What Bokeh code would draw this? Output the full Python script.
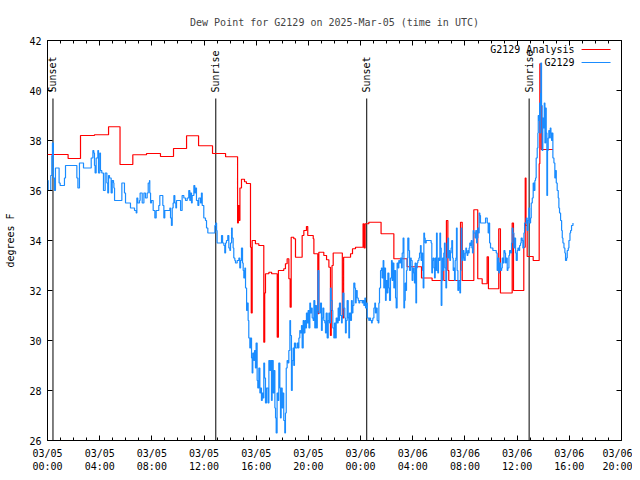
import math
from bokeh.plotting import figure
from bokeh.models import FixedTicker, LinearAxis, Range1d, CustomJSTickFormatter
from bokeh.core.properties import value
from bokeh.embed import file_html
from bokeh.resources import INLINE

# ---------------- data (hours since 2025-03-05 00:00 UTC, dew point in deg F) -------------
title_text = "Dew Point for G2129 on 2025-Mar-05 (time in UTC)"
series_names = ["G2129 Analysis", "G2129"]

analysis_hours = [0.00, 1.58, 2.53, 3.60, 4.68, 5.56, 6.54, 7.59, 8.66, 9.66,
                  10.66, 11.58, 12.65, 13.65, 14.57, 14.63, 14.68, 14.75, 14.87, 15.10,
                  15.25, 15.56, 15.62, 15.69, 15.94, 16.20, 16.58, 16.65, 16.71, 16.97,
                  17.18, 17.61, 17.70, 18.11, 18.24, 18.37, 18.50, 18.60, 18.68, 18.88,
                  19.01, 19.52, 19.65, 19.85, 19.95, 20.37, 20.42, 20.72, 20.80, 21.18,
                  21.39, 21.57, 21.69, 21.75, 21.81, 21.90, 22.60, 22.70, 23.23, 23.38,
                  23.61, 24.19, 24.27, 24.35, 24.63, 25.57, 26.55, 27.57, 28.67, 29.48,
                  30.25, 30.38, 30.58, 30.69, 30.76, 31.66, 31.79, 32.68, 32.98, 33.32,
                  33.70, 33.80, 34.59, 34.72, 35.62, 35.72, 36.51, 36.62, 36.68, 36.77,
                  37.23, 37.69, 37.74, 37.85, 38.75]
analysis_dewpt = [37.44, 37.28, 38.20, 38.23, 38.55, 37.04, 37.43, 37.48, 37.36, 37.68,
                  38.19, 37.79, 37.48, 37.35, 34.70, 35.40, 34.80, 36.10, 36.45, 36.35,
                  36.28, 33.73, 31.10, 34.00, 33.87, 33.80, 29.93, 31.90, 32.67, 32.73,
                  32.67, 30.13, 32.80, 32.87, 33.07, 33.27, 32.47, 31.33, 34.13, 34.07,
                  33.33, 34.20, 34.40, 34.56, 34.20, 34.07, 33.47, 31.07, 33.53, 33.40,
                  33.23, 32.93, 30.20, 31.20, 33.00, 33.50, 30.90, 33.33, 33.47, 33.67,
                  33.73, 34.67, 33.70, 34.67, 34.73, 34.27, 33.27, 32.95, 32.50, 32.40,
                  32.80, 32.40, 34.80, 32.80, 32.40, 34.73, 32.40, 35.23, 32.47, 32.27,
                  33.35, 32.07, 34.47, 31.90, 34.70, 32.00, 33.73, 36.50, 34.60, 33.36,
                  33.20, 37.07, 41.07, 37.64, 37.64]

obs_hours = [
    0.00, 0.05, 0.25, 0.33, 0.38, 0.45, 0.54, 0.61, 0.89, 0.97,
    1.30, 1.38, 2.25, 2.33, 2.45, 2.76, 3.35, 3.48, 3.55, 3.60,
    3.65, 3.73, 3.86, 3.91, 4.01, 4.06, 4.16, 4.29, 4.42, 4.55,
    4.62, 4.68, 4.75, 4.88, 4.96, 5.06, 5.09, 5.14, 5.70, 5.90,
    5.98, 6.36, 6.67, 6.80, 6.85, 6.92, 7.05, 7.10,
    7.26, 7.39, 7.51, 7.64, 7.72, 7.82, 7.84, 7.90, 7.97, 8.10,
    8.23, 8.33, 8.53, 8.61, 8.84, 8.92, 8.99, 9.38, 9.43, 9.50,
    9.56, 9.63, 9.69, 9.76, 9.84, 9.89, 10.20, 10.32, 10.45, 10.58,
    10.71, 10.83, 10.91, 10.96, 11.04, 11.09, 11.22, 11.29, 11.35, 11.42,
    11.53, 11.60, 11.73, 11.80, 11.86, 11.98, 12.11, 12.19, 12.29, 12.83,
    12.90, 12.96, 13.00, 13.34, 13.42, 13.52, 13.59, 13.65, 13.72, 13.82,
    13.90, 13.98, 14.03, 14.11, 14.16, 14.23, 14.28, 14.36, 14.41, 14.54,
    14.67, 14.74, 14.80, 14.87, 14.95, 15.00, 15.05, 15.13, 15.18, 15.26,
    15.31, 15.38, 15.43, 15.51, 15.56, 15.64, 15.69, 15.74, 15.82, 15.87,
    15.94, 15.99, 16.07, 16.12, 16.20, 16.28, 16.33, 16.40, 16.46, 16.51,
    16.58, 16.64, 16.71, 16.79, 16.91, 16.97, 17.04, 17.10, 17.17, 17.22,
    17.30, 17.35, 17.43, 17.48, 17.53, 17.60, 17.68, 17.73, 17.81, 17.86,
    17.91, 17.99, 18.04, 18.11, 18.19, 18.24, 18.30, 18.37, 18.45, 18.50,
    18.58, 18.63, 18.70, 18.76, 18.83, 18.88, 18.93, 19.01, 19.14, 19.22,
    19.27, 19.34, 19.39, 19.47, 19.52, 19.60, 19.65, 19.73, 19.78, 19.85,
    19.91, 19.98, 20.04, 20.11, 20.16, 20.24, 20.29, 20.37, 20.42, 20.49,
    20.55, 20.62, 20.68, 20.73, 20.80,
    20.93, 21.00, 21.06, 21.11, 21.18, 21.26, 21.31, 21.36, 21.44, 21.52,
    21.57, 21.62, 21.69, 21.75, 21.82, 21.87, 21.95, 22.00, 22.08, 22.13,
    22.21, 22.28, 22.33, 22.38, 22.46, 22.54, 22.59, 22.64, 22.72, 22.79,
    22.84, 22.90, 22.97, 23.05, 23.10, 23.15, 23.23, 23.30, 23.36, 23.41,
    23.48, 23.56, 23.61, 23.66, 23.74, 23.82, 23.87, 23.94, 24.07, 24.12,
    24.17, 24.25, 24.33, 24.38, 24.45, 24.51, 24.58, 24.63, 24.68, 24.76,
    24.84, 24.89, 24.94, 25.02, 25.09, 25.14, 25.19, 25.27, 25.35, 25.40,
    25.45, 25.53, 25.60, 25.65, 25.73, 25.78, 25.83, 25.91, 25.96, 26.04,
    26.09, 26.17, 26.22, 26.29, 26.37, 26.42, 26.47, 26.55, 26.60, 26.68,
    26.73, 26.80, 26.88, 26.93, 26.98,
    27.06, 27.14, 27.19, 27.26, 27.32, 27.37, 27.42, 27.47, 27.52, 27.57,
    27.62, 27.70, 27.75, 27.83, 27.88, 27.95, 28.01, 28.08, 28.13, 28.18,
    28.24, 28.29, 28.34, 28.39, 28.47, 28.52, 28.59, 28.64, 28.70, 28.75,
    28.80, 28.85, 28.90, 28.95, 29.03, 29.41, 29.46, 29.51, 29.56, 29.62,
    29.67, 29.72, 29.77, 29.82, 29.87, 29.92, 29.97, 30.02, 30.08, 30.13,
    30.18, 30.23, 30.28, 30.33, 30.38, 30.43, 30.48, 30.54, 30.59, 30.64,
    30.69, 30.74, 30.79, 30.84, 30.89, 30.94, 30.99, 31.05, 31.10, 31.15,
    31.20, 31.25, 31.30, 31.35, 31.40, 31.46, 31.51, 31.56, 31.61, 31.66,
    31.71, 31.76, 31.81, 31.86, 31.92, 31.97, 32.02, 32.07, 32.12, 32.17,
    32.22, 32.27, 32.32, 32.37, 32.43, 32.48, 32.53, 32.58, 32.63, 32.68,
    32.73, 32.78, 32.83, 32.89, 32.94, 32.99, 33.04, 33.09, 33.14, 33.19,
    33.58, 33.71, 33.78, 33.84, 33.89, 33.96, 34.04, 34.14, 34.40, 34.47,
    34.53, 34.60, 34.65, 34.73, 34.81, 34.86, 34.93, 34.99, 35.06, 35.11,
    35.16, 35.24, 35.29, 35.37, 35.42, 35.50, 35.57, 35.62, 35.68, 35.75,
    35.80, 35.88, 35.93, 36.01, 36.06, 36.14, 36.19, 36.26, 36.31, 36.39,
    36.44, 36.52, 36.57, 36.65, 36.70, 36.77, 36.83, 36.90, 36.95, 37.03,
    37.08, 37.16, 37.23, 37.29, 37.36, 37.41, 37.46, 37.54, 37.59, 37.62,
    37.67, 37.72, 37.75, 37.80, 37.82, 37.87, 37.92, 37.97, 38.03, 38.08,
    38.13, 38.18, 38.23, 38.28, 38.33, 38.38, 38.43, 38.49, 38.54, 38.59,
    38.64, 38.69, 38.74, 38.82, 38.89, 38.95, 39.00, 39.07, 39.15, 39.20,
    39.25, 39.33, 39.41, 39.46, 39.51, 39.59, 39.66, 39.71, 39.79, 39.84,
    39.92, 39.97, 40.05, 40.10, 40.17, 40.28]
obs_dewpt = [
    36.4, 36.0, 36.6, 37.4, 37.9, 36.5, 36.0, 36.9, 36.3, 36.2,
    36.5, 37.0, 36.5, 36.1, 37.1, 36.9, 37.3, 37.6, 37.5, 37.0,
    36.7, 37.3, 37.6, 36.7, 37.5, 36.8, 36.7, 36.0, 36.7, 36.3,
    35.9, 36.6, 36.5, 35.9, 36.4, 36.3, 36.1, 35.6, 36.3, 35.9,
    35.5, 35.3, 35.2, 35.1, 35.7, 35.5, 35.6, 35.9,
    35.5, 35.9, 35.7, 35.9, 36.3, 36.4, 35.9, 35.5, 35.6, 35.2,
    34.9, 35.2, 35.4, 35.8, 35.4, 34.9, 35.2, 35.3, 34.9, 34.6,
    35.3, 35.5, 35.8, 35.5, 35.3, 35.6, 35.2, 35.8, 35.7, 35.6,
    35.7, 36.0, 35.6, 35.9, 35.5, 35.8, 36.2, 35.9, 36.1, 35.6,
    35.4, 35.7, 35.5, 35.9, 35.4, 34.9, 34.8, 34.5, 34.3, 34.6,
    34.7, 34.4, 33.9, 34.2, 33.9, 33.8, 33.5, 33.9, 34.0, 34.2,
    33.7, 33.6, 33.9, 34.5, 34.1, 33.7, 33.3, 33.2, 33.1, 33.2,
    33.3, 32.9, 33.2, 33.7, 33.1, 32.8, 32.5, 32.9, 32.1, 31.2,
    31.5, 30.8, 30.1, 29.7, 30.1, 29.3, 28.7, 29.5, 29.2, 29.6,
    28.9, 29.9, 28.4, 28.1, 28.9, 27.9, 28.1, 27.6, 27.9, 27.7,
    29.1, 28.5, 27.5, 28.1, 27.5, 29.2, 28.8, 29.2, 27.6, 29.2,
    27.9, 28.8, 27.3, 26.9, 26.3, 27.9, 27.6, 29.1, 28.1, 26.9,
    28.1, 27.3, 27.9, 26.8, 26.3, 27.1, 28.9, 29.2, 29.1, 29.6,
    30.8, 30.2, 28.0, 29.2, 29.7, 29.0, 29.9, 29.7, 29.9, 29.7,
    30.1, 30.4, 30.3, 30.6, 29.7, 30.8, 30.3, 30.8, 30.5, 31.1,
    30.7, 31.2, 30.5, 31.5, 31.1, 31.3, 30.9, 30.8, 31.6, 30.5,
    31.4, 30.5, 31.2, 32.8, 31.1,
    31.5, 30.4, 30.9, 31.3, 30.8, 30.7, 30.3, 31.1, 30.1, 30.8,
    31.1, 30.7, 32.1, 31.6, 31.2, 30.5, 30.1, 30.7, 30.1, 30.9,
    30.7, 31.3, 30.8, 31.5, 31.0, 30.7, 31.0, 31.9, 31.3, 30.9,
    30.3, 30.8, 31.6, 30.9, 30.1, 31.1, 30.8, 31.6, 31.1, 31.4,
    32.3, 32.1, 31.5, 32.0, 31.7, 31.6, 31.5, 31.6, 31.6, 31.5,
    31.6, 31.4, 31.7, 31.3, 31.5, 30.9, 30.9, 30.8, 30.9, 30.8,
    30.7, 30.8, 30.9, 31.3, 31.5, 31.1, 31.3, 30.8, 30.7, 31.5,
    32.1, 32.8, 32.9, 32.5, 33.2, 32.1, 32.9, 31.6, 32.4, 31.9,
    32.7, 32.1, 31.6, 32.5, 33.2, 32.4, 33.1, 32.1, 32.8, 31.7,
    31.3, 33.1, 32.9, 33.2, 33.1,
    33.3, 32.9, 33.5, 34.1, 31.3, 31.6, 32.3, 32.0, 32.8, 33.3,
    34.1, 33.6, 32.8, 33.3, 33.2, 32.4, 32.9, 32.7, 32.3, 33.1,
    31.5, 32.9, 33.1, 33.2, 33.3, 33.5, 33.8, 33.2, 33.5, 32.8,
    32.1, 34.3, 34.1, 33.9, 34.0, 33.9, 32.7, 33.2, 33.3, 32.9,
    32.5, 33.3, 32.8, 34.3, 32.8, 32.7, 33.3, 33.2, 34.3, 33.7,
    31.4, 32.4, 33.3, 32.8, 33.5, 33.9, 32.9, 32.1, 33.3, 33.9,
    34.1, 33.3, 33.6, 33.2, 33.5, 33.7, 34.0, 33.3, 32.8, 32.9,
    32.4, 33.2, 33.3, 34.5, 32.8, 32.0, 32.4, 32.1, 31.9, 32.8,
    34.5, 33.3, 33.2, 33.6, 33.3, 33.2, 33.5, 33.7, 33.5, 33.4,
    33.6, 33.5, 33.7, 33.9, 33.8, 34.0, 33.7, 33.5, 34.4, 34.3,
    34.3, 34.1, 34.4, 33.9, 34.1, 34.5, 34.3, 35.1, 35.0, 34.7,
    34.9, 34.7, 34.3, 34.7, 33.9, 33.7, 33.7, 33.6, 33.5, 32.8,
    33.3, 32.7, 33.1, 32.8, 32.9, 33.3, 33.1, 33.6, 33.5, 33.1,
    33.3, 32.8, 32.9, 33.4, 33.6, 33.5, 33.9, 34.5, 34.3, 33.7,
    34.1, 33.5, 33.2, 33.6, 33.7, 33.6, 33.8, 33.9, 34.1, 34.0,
    33.7, 34.3, 34.7, 34.7, 34.9, 34.4, 34.8, 35.3, 34.7, 34.9,
    35.5, 35.7, 36.3, 36.0, 36.4, 36.5, 37.3, 37.7, 38.3, 39.0,
    38.8, 39.5, 38.3, 39.9, 41.1, 39.4, 37.6, 38.9, 38.5, 39.5,
    37.9, 39.3, 38.3, 35.8, 37.6, 38.1, 38.4, 38.1, 38.5, 38.3,
    38.0, 38.3, 37.3, 37.1, 36.5, 36.8, 36.3, 36.0, 35.7, 35.3,
    35.1, 34.8, 34.4, 34.1, 33.9, 33.7, 33.5, 33.2, 33.3, 33.6,
    33.7, 34.0, 34.3, 34.4, 34.6, 34.7]

event_hours = [0.42, 12.90, 24.47, 36.92]
event_labels = ["Sunset", "Sunrise", "Sunset", "Sunrise"]

x_tick_hours = [0, 4, 8, 12, 16, 20, 24, 28, 32, 36, 40, 44]
x_tick_labels = ["03/05\n00:00", "03/05\n04:00", "03/05\n08:00", "03/05\n12:00",
                 "03/05\n16:00", "03/05\n20:00", "03/06\n00:00", "03/06\n04:00",
                 "03/06\n08:00", "03/06\n12:00", "03/06\n16:00", "03/06\n20:00"]
y_ticks = [26, 28, 30, 32, 34, 36, 38, 40, 42]

assert len(obs_hours) == len(obs_dewpt), (len(obs_hours), len(obs_dewpt))
assert len(analysis_hours) == len(analysis_dewpt)

# ---------------- styling ----------------
FONT = "DejaVu Sans Mono"
FS = "10px"
RED = "#ff0000"
BLUE = "#1a8cff"
LW = 1.2

p = figure(width=632, height=474, output_backend="svg", toolbar_location=None,
           x_range=Range1d(0, 44), y_range=Range1d(26, 42),
           min_border_left=47, min_border_right=11, min_border_top=40, min_border_bottom=32,
           title=title_text)
p.background_fill_color = "white"
p.border_fill_color = "white"
p.outline_line_color = "black"
p.outline_line_width = 1
p.xgrid.visible = False
p.ygrid.visible = False

p.title.text_font = FONT
p.title.text_font_size = FS
p.title.text_font_style = "normal"
p.title.align = "center"
p.title.standoff = 25

xticker = FixedTicker(ticks=x_tick_hours, minor_ticks=list(range(0, 45)))
yticker = FixedTicker(ticks=y_ticks, minor_ticks=[])

xa = p.xaxis[0]
xa.ticker = xticker
xa.major_label_overrides = dict(zip(x_tick_hours, x_tick_labels))
ya = p.yaxis[0]
ya.ticker = yticker
ya.axis_label = "degrees F"
ya.axis_label_text_font = FONT
ya.axis_label_text_font_size = FS
ya.axis_label_text_font_style = "normal"
ya.axis_label_text_color = "black"
ya.axis_label_standoff = 10

blank = CustomJSTickFormatter(code="return ''")
top = LinearAxis(ticker=xticker, formatter=blank)
right = LinearAxis(ticker=yticker, formatter=blank)
p.add_layout(top, "above")
p.add_layout(right, "right")

for ax in [xa, ya, top, right]:
    ax.axis_line_color = None
    ax.major_tick_in = 5
    ax.major_tick_out = 0
    ax.minor_tick_in = 3
    ax.minor_tick_out = 0
    ax.major_tick_line_color = "black"
    ax.minor_tick_line_color = "black"
    ax.major_label_text_font = FONT
    ax.major_label_text_font_size = FS
    ax.major_label_text_color = "black"
for ax in [top, right]:
    ax.major_label_standoff = 0
xa.major_label_standoff = 7
ya.major_label_standoff = 6

# sunrise / sunset markers
line_top = 39.68
n = len(event_hours)
p.segment(x0=event_hours, y0=[26] * n, x1=event_hours, y1=[line_top] * n,
          line_color="black", line_width=1)
p.text(x=event_hours, y=[line_top] * n, text=event_labels, angle=math.pi / 2,
       text_align="left", text_baseline="middle", y_offset=-6,
       text_font=value(FONT), text_font_size=FS, text_color="black")

# data series
p.step(analysis_hours, analysis_dewpt, mode="after", line_color=RED, line_width=LW)
p.step(obs_hours, obs_dewpt, mode="after", line_color=BLUE, line_width=LW)

# key (top right, text then line sample, as in the original)
key_y = [41.64, 41.12]
p.text(x=[40.4, 40.4], y=key_y, text=series_names, text_align="right",
       text_baseline="middle", text_font=value(FONT), text_font_size=FS, text_color="black")
p.segment(x0=[40.94, 40.94], y0=key_y, x1=[43.16, 43.16], y1=key_y,
          line_color=[RED, BLUE], line_width=LW)

open("out.html", "w").write(file_html(p, INLINE))
